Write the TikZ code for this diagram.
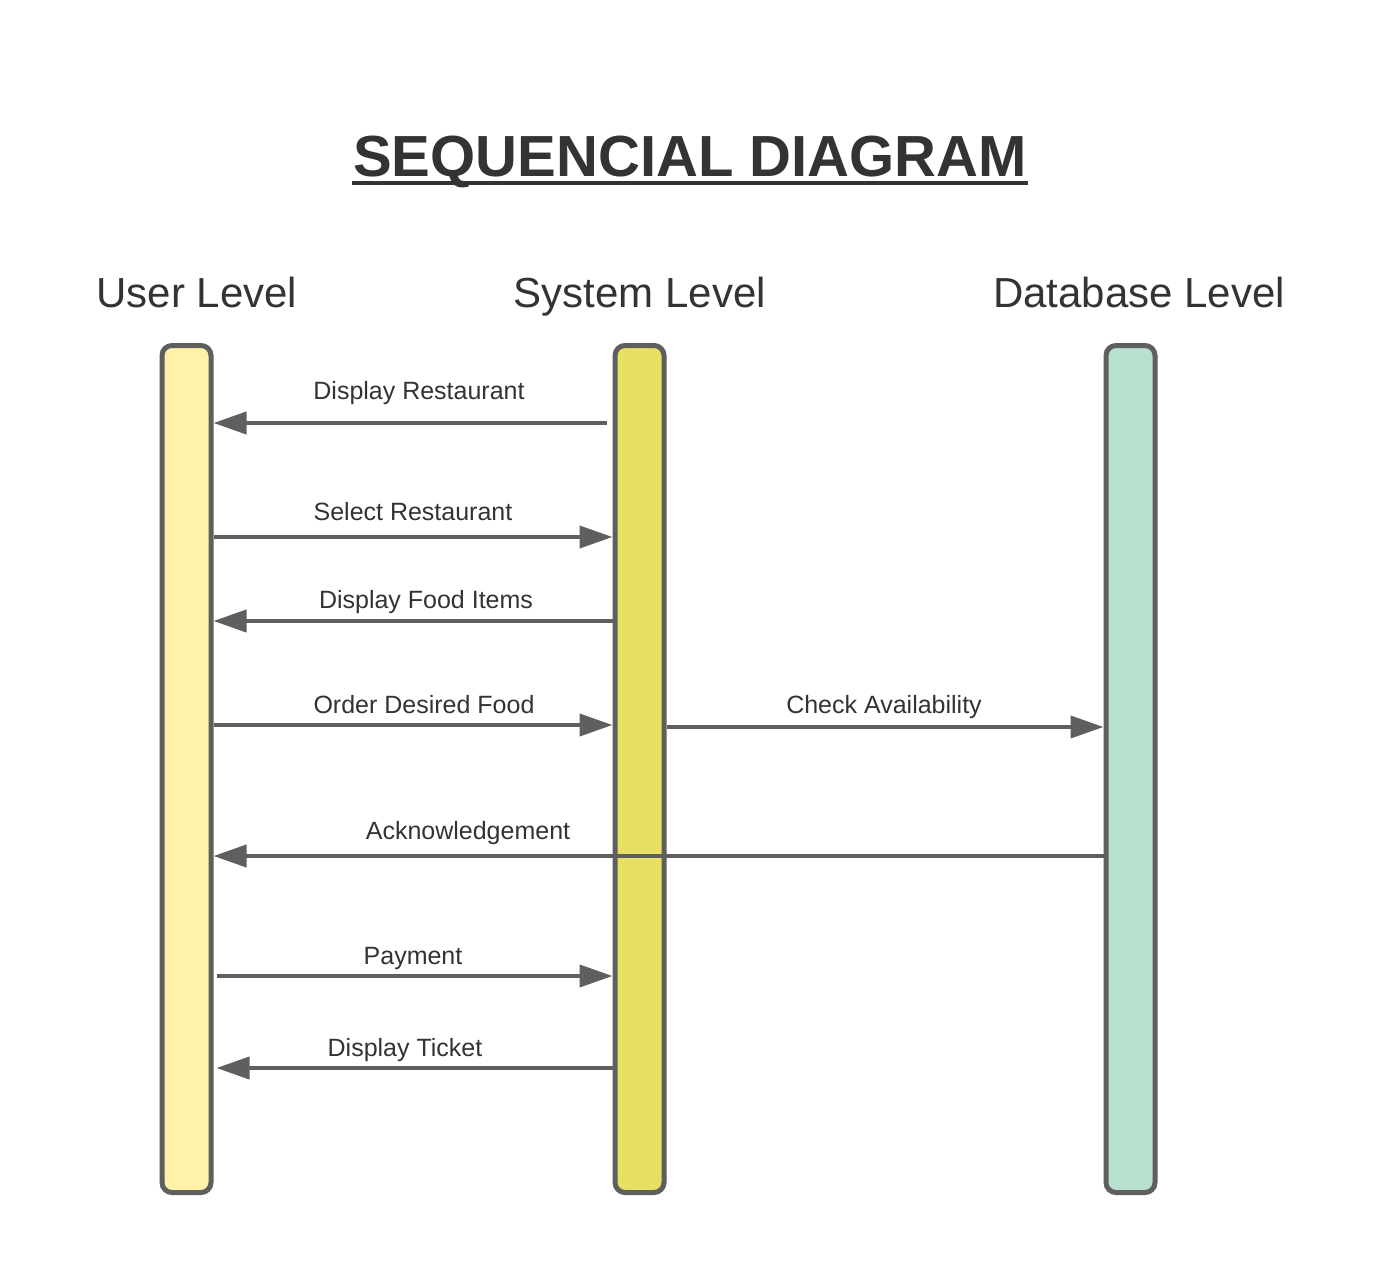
\documentclass[tikz,border=0pt]{standalone}
\usepackage{fontspec}
\setmainfont{Liberation Sans}
\usetikzlibrary{arrows.meta,calc}
\definecolor{txt}{HTML}{333333}
\definecolor{edge}{HTML}{5F5F5F}
\definecolor{userfill}{HTML}{FFF2A8}
\definecolor{sysfill}{HTML}{E8E062}
\definecolor{dbfill}{HTML}{B8E0CE}
\tikzset{
  lifebar/.style={draw=edge, line width=5pt, rounded corners=10pt, minimum width=49pt, minimum height=847pt, inner sep=0pt},
  msg/.style={draw=edge, line width=4pt, -{Triangle[length=33pt,width=22pt]}},
  msglabel/.style={text=txt, font=\fontsize{25}{29}\selectfont, anchor=base, inner sep=0pt},
  header/.style={text=txt, font=\fontsize{42}{49}\selectfont, anchor=base, inner sep=0pt},
}
\begin{document}
\begin{tikzpicture}[x=1pt,y=-1pt]
\useasboundingbox (0,0) rectangle (1395,1268);
\fill[white] (0,0) rectangle (1395,1268);
% title
\node[text=txt, font=\fontsize{58}{66}\selectfont\bfseries, anchor=base, inner sep=0pt] (title) at (690,177) {SEQUENCIAL DIAGRAM};
\draw[txt, line width=4pt] ($(title.base west)+(-1,6)$) -- ($(title.base east)+(1,6)$);
% headers
\node[header] (hu) at (197,307) {User Level};
\node[header] (hs) at (640,307) {System Level};
\node[header] (hd) at (1139,307) {Database Level};
% life bars
\node[lifebar, fill=userfill] (usr) at (186.5,769) {};
\node[lifebar, fill=sysfill] (sys) at (639.5,769) {};
\node[lifebar, fill=dbfill] (db) at (1130.5,769) {};
% messages
\draw[msg, shorten <=6pt] (sys.west |- 0,423) -- (usr.east |- 0,423);
\node[msglabel] (l1) at (419,399.5) {Display Restaurant};
\draw[msg] (usr.east |- 0,537) -- (sys.west |- 0,537);
\node[msglabel] (l2) at (413,520) {Select Restaurant};
\draw[msg] (sys.west |- 0,621) -- (usr.east |- 0,621);
\node[msglabel] (l3) at (426,608) {Display Food Items};
\draw[msg] (usr.east |- 0,725) -- (sys.west |- 0,725);
\node[msglabel] (l4) at (424,713) {Order Desired Food};
\draw[msg] (sys.east |- 0,727) -- (db.west |- 0,727);
\node[msglabel] (l5) at (884,713) {Check Availability};
\draw[msg] (db.west |- 0,856) -- (usr.east |- 0,856);
\node[msglabel] (l6) at (468,839) {Acknowledgement};
\draw[msg, shorten <=3pt] (usr.east |- 0,976) -- (sys.west |- 0,976);
\node[msglabel] (l7) at (413,964) {Payment};
\draw[msg, shorten >=3pt] (sys.west |- 0,1068) -- (usr.east |- 0,1068);
\node[msglabel] (l8) at (405,1056) {Display Ticket};
\end{tikzpicture}
\end{document}
